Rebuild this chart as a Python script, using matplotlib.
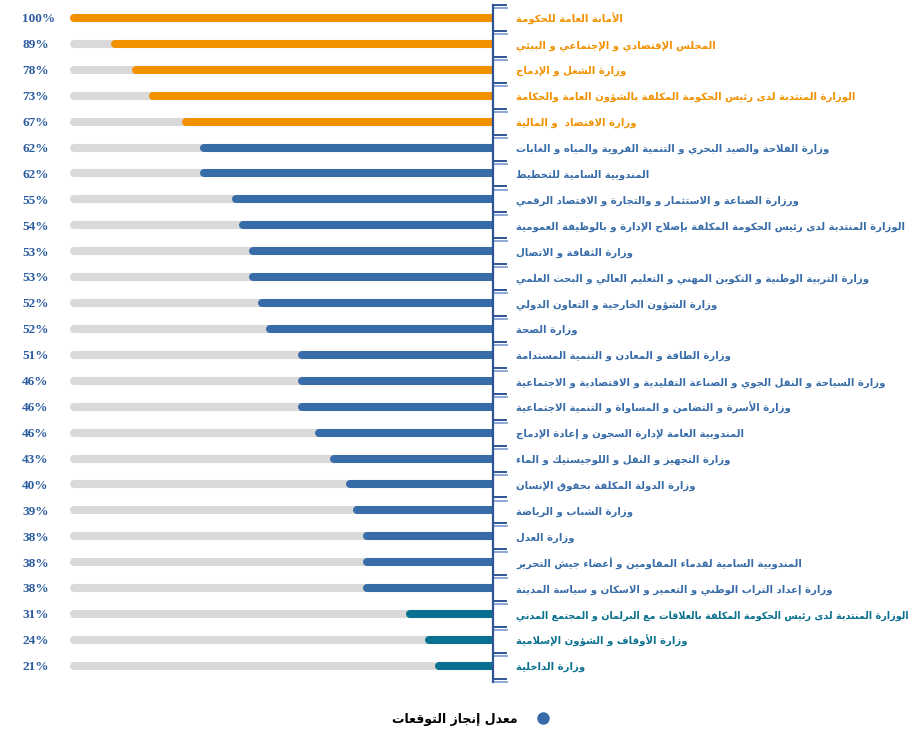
import matplotlib
matplotlib.use('Agg')
import matplotlib.pyplot as plt
from matplotlib.lines import Line2D
import numpy as np


# data (top to bottom)
labels = [
    'الأمانة العامة للحكومة',
    'المجلس الإقتصادي و الإجتماعي و البيئي',
    'وزارة الشغل و الإدماج',
    'الوزارة المنتدبة لدى رئيس الحكومة المكلفة بالشؤون العامة والحكامة',
    'وزارة الاقتصاد  و المالية',
    'وزارة الفلاحة والصيد البحري و التنمية القروية والمياه و الغابات',
    'المندوبية السامية للتخطيط',
    'ورزارة الصناعة و الاستثمار و والتجارة و الاقتصاد الرقمي',
    'الوزارة المنتدبة لدى رئيس الحكومة المكلفة بإصلاح الإدارة و بالوظيفة العمومية',
    'وزارة الثقافة و الاتصال',
    'وزارة التربية الوطنية و التكوين المهني و التعليم العالي و البحث العلمي',
    'وزارة الشؤون الخارجية و التعاون الدولي',
    'وزارة الصحة',
    'وزارة الطاقة و المعادن و التنمية المستدامة',
    'وزارة السياحة و النقل الجوي و الصناعة التقليدية و الاقتصادية و الاجتماعية',
    'وزارة الأسرة و التضامن و المساواة و التنمية الاجتماعية',
    'المندوبية العامة لإدارة السجون و إعادة الإدماج',
    'وزارة التجهيز و النقل و اللوجيستيك و الماء',
    'وزارة الدولة المكلفة بحقوق الإنسان',
    'وزارة الشباب و الرياضة',
    'وزارة العدل',
    'المندوبية السامية لقدماء المقاومين و أعضاء جيش التحرير',
    'وزارة إعداد التراب الوطني و التعمير و الاسكان و سياسة المدينة',
    'الوزارة المنتدبة لدى رئيس الحكومة المكلفة بالعلاقات مع البرلمان و المجتمع المدني',
    'وزارة الأوقاف و الشؤون الإسلامية',
    'وزارة الداخلية',
]
pct_labels = ['100%', '89%', '78%', '73%', '67%', '62%', '62%', '55%', '54%',
              '53%', '53%', '52%', '52%', '51%', '46%', '46%', '46%', '43%',
              '40%', '39%', '38%', '38%', '38%', '31%', '24%', '21%']
bar_values = [100, 90.3, 85.2, 81.2, 73.3, 69.0, 69.0, 61.4, 59.7, 57.3, 57.3,
              55.2, 53.2, 45.6, 45.6, 45.6, 41.5, 38.0, 34.1, 32.5, 30.1, 30.1,
              30.1, 19.8, 15.3, 12.9]
groups = ['o'] * 5 + ['b'] * 18 + ['t'] * 3
legend_label = 'معدل إنجاز التوقعات'

colors = {'o': '#F29100', 'b': '#376CA9', 't': '#0A7090'}
grey = '#D9D9D9'
axis_col = '#2F5597'
pct_col = '#2B5C9E'


# tiny arabic shaper: presentation forms + reversal (no bidi lib available)
ARABIC = 'ءآأؤإئابةتثجحخدذرزسشصضطظعغفقكلمنهوىي'
NFORMS = [1, 2, 2, 2, 2, 4, 2, 4, 2, 4, 4, 4, 4, 4, 2, 2, 2, 2,
          4, 4, 4, 4, 4, 4, 4, 4, 4, 4, 4, 4, 4, 4, 4, 2, 2, 4]
FORMS = {}
code = 0xFE80
for ch, n in zip(ARABIC, NFORMS):
    FORMS[ch] = [chr(code + k) for k in range(n)]
    code += n
LAM_ALEF = {'آ': 0xFEF5, 'أ': 0xFEF7, 'إ': 0xFEF9, 'ا': 0xFEFB}


def shape(s):
    units = []
    i = 0
    while i < len(s):
        if s[i] == 'ل' and i + 1 < len(s) and s[i + 1] in LAM_ALEF:
            c = LAM_ALEF[s[i + 1]]
            units.append((None, [chr(c), chr(c + 1)]))
            i += 2
        else:
            units.append((s[i], FORMS.get(s[i])))
            i += 1
    out = []
    for k, (ch, forms) in enumerate(units):
        if forms is None:
            out.append(ch)
            continue
        prev = units[k - 1][1] if k > 0 else None
        nxt = units[k + 1][1] if k + 1 < len(units) else None
        jp = len(forms) > 1 and prev is not None and len(prev) == 4
        jn = len(forms) == 4 and nxt is not None and len(nxt) > 1
        if jp and jn:
            out.append(forms[3])
        elif jp:
            out.append(forms[1])
        elif jn:
            out.append(forms[2])
        else:
            out.append(forms[0])
    return ''.join(reversed(out))


W, H = 917, 734
fig = plt.figure(figsize=(W / 100, H / 100), dpi=100)
ax = fig.add_axes([70 / W, 1 - 682 / H, 423 / W, 677 / H])

n = len(labels)
y = np.arange(n)
lw = 5.8

ax.hlines(y, 0, 100, colors=grey, linewidth=lw, capstyle='round', zorder=1)
ax.hlines(y, 0, bar_values, colors=[colors[g] for g in groups],
          linewidth=lw, capstyle='round', zorder=2)

ax.set_xlim(101, 0)
ax.set_ylim(n - 0.5, -0.5)

for s in ['left', 'top', 'bottom']:
    ax.spines[s].set_visible(False)
ax.spines['right'].set_color(axis_col)
ax.spines['right'].set_linewidth(1.6)
ax.set_xticks([])
ax.yaxis.tick_right()
ax.set_yticks(np.arange(-0.5, n, 1.0))
ax.set_yticklabels([])
ax.set_yticks(np.arange(-0.5, n, 1.0) + 0.12, minor=True)
ax.tick_params(axis='y', which='major', length=10, width=1.4, color=axis_col)
ax.tick_params(axis='y', which='minor', length=11, width=1.4, color='#8EA9D6')

ty = ax.get_yaxis_transform()
renderer = fig.canvas.get_renderer()
for i in range(n):
    ax.text((22 - 70) / 423, y[i] + 0.05, pct_labels[i], transform=ty,
            ha='left', va='center', fontsize=9.5, fontweight='bold',
            family='Liberation Serif', color=pct_col)
    t = ax.text(1 + 23 / 423, y[i] + 0.05, shape(labels[i]), transform=ty,
                ha='left', va='center', fontsize=7.3, fontweight='bold',
                family='DejaVu Sans', color=colors[groups[i]])
    # shrink a label that would run past the right edge
    bb = t.get_window_extent(renderer)
    if bb.x1 > W - 6:
        t.set_fontsize(7.3 * (W - 6 - bb.x0) / bb.width)

handle = Line2D([], [], marker='o', linestyle='none', markersize=8,
                color='#376CA9')
fig.legend([handle], [shape(legend_label)], loc='center',
           bbox_to_anchor=(474 / W, 1 - 719 / H), frameon=False,
           markerfirst=False, prop={'family': 'DejaVu Sans', 'weight': 'bold',
                                    'size': 9}, handletextpad=1.0)

fig.savefig('out.png', dpi=100)
